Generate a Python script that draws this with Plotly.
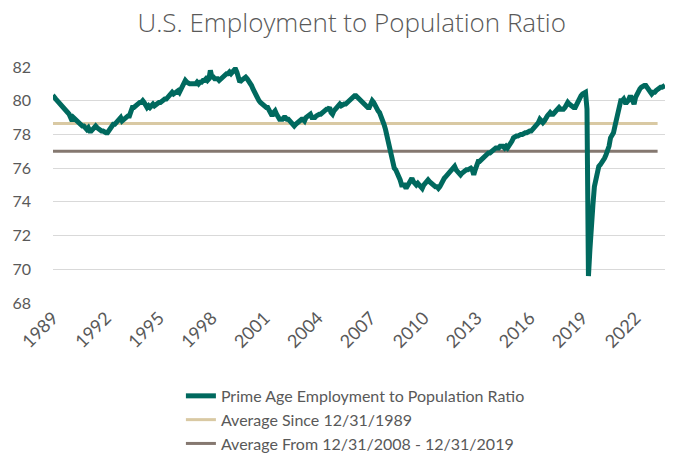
import pandas as pd
import plotly.graph_objects as go

# monthly prime age (25-54) employment to population ratio, Dec 1989 - Aug 2024
start_month = "1989-12-31"
epop = [
    80.1,
    80.2, 80.1, 80.0, 79.9, 79.9, 79.8, 79.6, 79.5, 79.4, 79.3, 79.2, 79.0,  # 1990
    78.8, 79.0, 78.9, 78.9, 78.7, 78.6, 78.6, 78.5, 78.5, 78.4, 78.3, 78.4,  # 1991
    78.2, 78.2, 78.3, 78.5, 78.5, 78.4, 78.3, 78.3, 78.2, 78.2, 78.1, 78.1,  # 1992
    78.1, 78.2, 78.4, 78.5, 78.6, 78.6, 78.7, 78.9, 78.9, 79.0, 78.8, 78.9,  # 1993
    78.9, 79.0, 79.1, 79.1, 79.3, 79.6, 79.6, 79.7, 79.7, 79.8, 79.9, 79.9,  # 1994
    80.0, 79.9, 79.8, 79.6, 79.7, 79.6, 79.7, 79.8, 79.7, 79.8, 79.8, 79.9,  # 1995
    79.9, 80.0, 80.0, 80.1, 80.1, 80.2, 80.4, 80.5, 80.5, 80.4, 80.5, 80.5,  # 1996
    80.6, 80.5, 80.7, 80.8, 81.0, 81.2, 81.1, 81.0, 81.0, 81.0, 81.0, 81.0,  # 1997
    81.0, 81.1, 81.0, 81.1, 81.1, 81.2, 81.2, 81.3, 81.2, 81.3, 81.8, 81.4,  # 1998
    81.4, 81.3, 81.3, 81.3, 81.2, 81.3, 81.3, 81.4, 81.5, 81.6, 81.6, 81.7,  # 1999
    81.6, 81.7, 81.8, 81.9, 81.7, 81.3, 81.1, 81.2, 81.3, 81.4, 81.4, 81.3,  # 2000
    81.2, 81.1, 80.9, 80.7, 80.5, 80.3, 80.1, 80.0, 79.9, 79.8, 79.7, 79.7,  # 2001
    79.6, 79.6, 79.4, 79.2, 79.1, 79.3, 79.4, 79.2, 79.0, 78.9, 78.9, 78.9,  # 2002
    79.0, 79.0, 78.9, 78.9, 78.8, 78.7, 78.6, 78.5, 78.6, 78.7, 78.7, 78.8,  # 2003
    78.9, 78.9, 78.8, 79.0, 79.1, 79.2, 79.2, 79.0, 79.0, 79.0, 79.1, 79.2,  # 2004
    79.2, 79.2, 79.3, 79.4, 79.4, 79.5, 79.5, 79.6, 79.3, 79.2, 79.4, 79.5,  # 2005
    79.7, 79.7, 79.8, 79.7, 79.8, 79.8, 79.8, 79.9, 79.9, 80.0, 80.1, 80.2,  # 2006
    80.3, 80.3, 80.2, 80.1, 80.0, 79.9, 79.8, 79.8, 79.7, 79.6, 79.6, 79.8,  # 2007
    80.0, 79.9, 79.7, 79.6, 79.4, 79.3, 79.1, 78.8, 78.6, 78.3, 77.9, 77.5,  # 2008
    77.0, 76.6, 76.2, 76.0, 75.9, 75.7, 75.6, 75.3, 75.0, 75.0, 75.0, 74.8,  # 2009
    75.0, 75.1, 75.3, 75.4, 75.2, 75.1, 75.0, 75.1, 75.0, 74.9, 74.8, 75.0,  # 2010
    75.1, 75.2, 75.3, 75.2, 75.1, 75.0, 75.0, 74.9, 74.9, 74.8, 74.9, 75.1,  # 2011
    75.3, 75.4, 75.5, 75.6, 75.7, 75.7, 75.8, 75.9, 76.1, 75.9, 75.8, 75.8,  # 2012
    75.6, 75.7, 75.8, 75.9, 75.9, 75.9, 76.0, 76.0, 75.9, 75.6, 75.9, 76.2,  # 2013
    76.4, 76.4, 76.5, 76.6, 76.7, 76.7, 76.8, 76.9, 76.9, 77.0, 77.1, 77.1,  # 2014
    77.2, 77.2, 77.2, 77.3, 77.3, 77.3, 77.2, 77.3, 77.2, 77.3, 77.5, 77.6,  # 2015
    77.8, 77.9, 77.9, 77.9, 78.0, 78.0, 78.0, 78.1, 78.1, 78.1, 78.2, 78.2,  # 2016
    78.2, 78.3, 78.5, 78.6, 78.6, 78.7, 78.9, 78.8, 78.7, 78.8, 79.0, 79.1,  # 2017
    79.2, 79.3, 79.2, 79.2, 79.3, 79.4, 79.5, 79.6, 79.5, 79.5, 79.5, 79.6,  # 2018
    79.7, 79.9, 79.8, 79.7, 79.7, 79.6, 79.6, 79.8, 80.0, 80.2, 80.3, 80.4,  # 2019
    80.5, 80.5, 79.5, 69.6, 71.2, 73.0, 73.8, 74.9, 75.3, 76.0, 76.1, 76.2,  # 2020
    76.3, 76.4, 76.6, 76.8, 77.0, 77.3, 77.8, 77.9, 78.1, 78.5, 78.9, 79.3,  # 2021
    79.6, 80.0, 80.0, 80.1, 79.9, 79.9, 80.0, 80.2, 80.2, 80.0, 79.8, 80.2,  # 2022
    80.4, 80.6, 80.7, 80.8, 80.9, 80.9, 80.9, 80.8, 80.7, 80.6, 80.4, 80.5,  # 2023
    80.5, 80.6, 80.7, 80.7, 80.8, 80.8, 80.9, 80.9,  # 2024
]
avg_since_1989 = 78.65
avg_2008_2019 = 77.0
avg_end = "2024-03-31"
tick_years = [1989, 1992, 1995, 1998, 2001, 2004, 2007, 2010, 2013, 2016, 2019, 2022]

dates = pd.date_range(start_month, periods=len(epop), freq="ME")
tick_dates = [f"{y}-12-31" for y in tick_years]

teal = "#00695E"
tan = "#D9C9A3"
brown = "#857870"
grey_text = "#595959"
font = "Lato, 'Open Sans', sans-serif"

avg_all = go.Scatter(
    x=[dates[0], avg_end],
    y=[avg_since_1989, avg_since_1989],
    mode="lines",
    line=dict(color=tan, width=3),
    name="Average Since 12/31/1989",
    legendrank=2,
)
avg_decade = go.Scatter(
    x=[dates[0], avg_end],
    y=[avg_2008_2019, avg_2008_2019],
    mode="lines",
    line=dict(color=brown, width=3),
    name="Average From 12/31/2008 - 12/31/2019",
    legendrank=3,
)
ratio = go.Scatter(
    x=dates,
    y=epop,
    mode="lines",
    line=dict(color=teal, width=5),
    name="Prime Age Employment to Population Ratio",
    legendrank=1,
)

# page has an 8px body margin, so the figure is drawn slightly smaller than the window
layout = go.Layout(
    width=670,
    height=448,
    paper_bgcolor="white",
    plot_bgcolor="white",
    font=dict(family=font, color=grey_text, size=15),
    title=dict(
        text="U.S. Employment to Population Ratio",
        x=0.513,
        xanchor="center",
        y=0.987,
        yanchor="top",
        font=dict(family="'Open Sans', Lato, sans-serif", size=26, color=grey_text, weight=300),
    ),
    margin=dict(l=45, r=13, t=59, b=153),
    xaxis=dict(
        type="date",
        range=[dates[0], dates[-1]],
        tickvals=tick_dates,
        ticktext=[str(y) for y in tick_years],
        tickangle=-45,
        showgrid=False,
        showline=False,
        zeroline=False,
        automargin=False,
        tickfont=dict(size=18),
    ),
    yaxis=dict(
        range=[68, 82],
        dtick=2,
        gridcolor="#D9D9D9",
        gridwidth=1,
        zeroline=False,
        showline=False,
        automargin=False,
        tickfont=dict(size=16),
        ticklabelstandoff=21,
    ),
    legend=dict(
        x=0.209,
        y=0.172,
        yref="container",
        xanchor="left",
        yanchor="top",
        font=dict(size=16),
        bgcolor="rgba(0,0,0,0)",
    ),
    showlegend=True,
)

fig = go.Figure(data=[avg_all, avg_decade, ratio], layout=layout)
fig.write_html("out.html")
